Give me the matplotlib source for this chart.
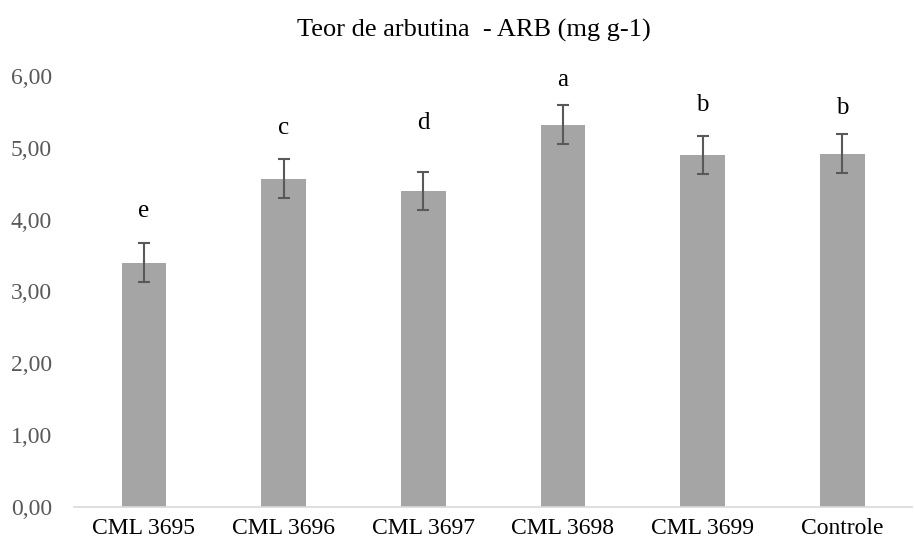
import matplotlib.pyplot as plt

plt.rcParams['font.family'] = ['Liberation Serif', 'DejaVu Serif']

categories = ['CML 3695', 'CML 3696', 'CML 3697', 'CML 3698', 'CML 3699', 'Controle']
arb = [3.40, 4.57, 4.40, 5.32, 4.90, 4.92]
err = [0.27, 0.27, 0.27, 0.27, 0.27, 0.27]
letters = ['e', 'c', 'd', 'a', 'b', 'b']
letter_y = [4.12, 5.28, 5.35, 5.95, 5.60, 5.56]
yticks = [0, 1, 2, 3, 4, 5, 6]

fig = plt.figure(figsize=(9.14, 5.45), dpi=100)
ax = fig.add_axes([0.081, 0.0697, 0.917, 0.7909])

x = range(len(categories))
ax.bar(x, arb, width=0.32, color='#a5a5a5', zorder=2)
ax.errorbar(x, arb, yerr=err, fmt='none', ecolor='#595959', elinewidth=1.5,
            capsize=4.5, capthick=1.5, zorder=3)

# letras do teste de medias
for i in x:
    ax.text(i, letter_y[i], letters[i], ha='center', va='center', fontsize=18, color='black')

ax.set_xlim(-0.5, len(categories) - 0.5)
ax.set_ylim(0, 6)
ax.set_yticks(yticks)
ax.set_yticklabels([('%.2f' % v).replace('.', ',') for v in yticks], fontsize=17, color='#595959')
ax.set_xticks(list(x))
ax.set_xticklabels(categories, fontsize=17, color='black')
ax.tick_params(axis='both', length=0)
ax.tick_params(axis='y', pad=16)
ax.tick_params(axis='x', pad=8)

for s in ['top', 'right', 'left']:
    ax.spines[s].set_visible(False)
ax.spines['bottom'].set_color('#d9d9d9')
ax.spines['bottom'].set_linewidth(1.2)

fig.text(0.519, 0.945, 'Teor de arbutina  - ARB (mg g-1)', ha='center', va='center', fontsize=19)

fig.savefig('out.png', dpi=100)
